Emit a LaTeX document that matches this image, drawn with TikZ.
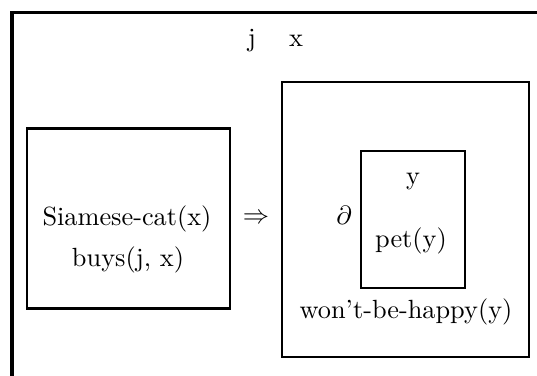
\documentclass[tikz,border=0pt]{standalone}
\begin{document}
\begin{tikzpicture}[x=0.38pt,y=-0.38pt,
  box/.style={draw,line width=0.95pt,inner sep=0pt,rectangle},
  lbl/.style={inner sep=0pt,anchor=base}]
\useasboundingbox (0,0) rectangle (537,375);
% outer DRS (partially visible)
\coordinate (ob) at (12,376);
\coordinate (otl) at (12,12.5);
\coordinate (or) at (538,12.5);
\draw[line width=1.2pt] (ob) -- (otl) -- (or);
\node[lbl] (j) at (252,46) {j};
\node[lbl] (x) at (296,46) {x};
% antecedent box
\node[box,minimum width=203*0.38pt,minimum height=180*0.38pt] (ante) at (128.5,218.5) {};
\node[lbl] (sc) at (127,225) {Siamese-cat(x)};
\node[lbl] (by) at (128,266) {buys(j, x)};
\node (imp) at (256,219) {$\Rightarrow$};
% consequent box
\node[box,minimum width=247*0.38pt,minimum height=275*0.38pt] (cons) at (405.5,219.5) {};
\node (dl) at (344,215) {$\partial$};
\node[box,minimum width=104*0.38pt,minimum height=137*0.38pt] (inner) at (413,219.5) {};
\node[lbl] (yv) at (413,184) {y};
\node[lbl] (pet) at (411,247) {pet(y)};
\node[lbl] (wbh) at (406,318) {won't-be-happy(y)};
\end{tikzpicture}
\end{document}
